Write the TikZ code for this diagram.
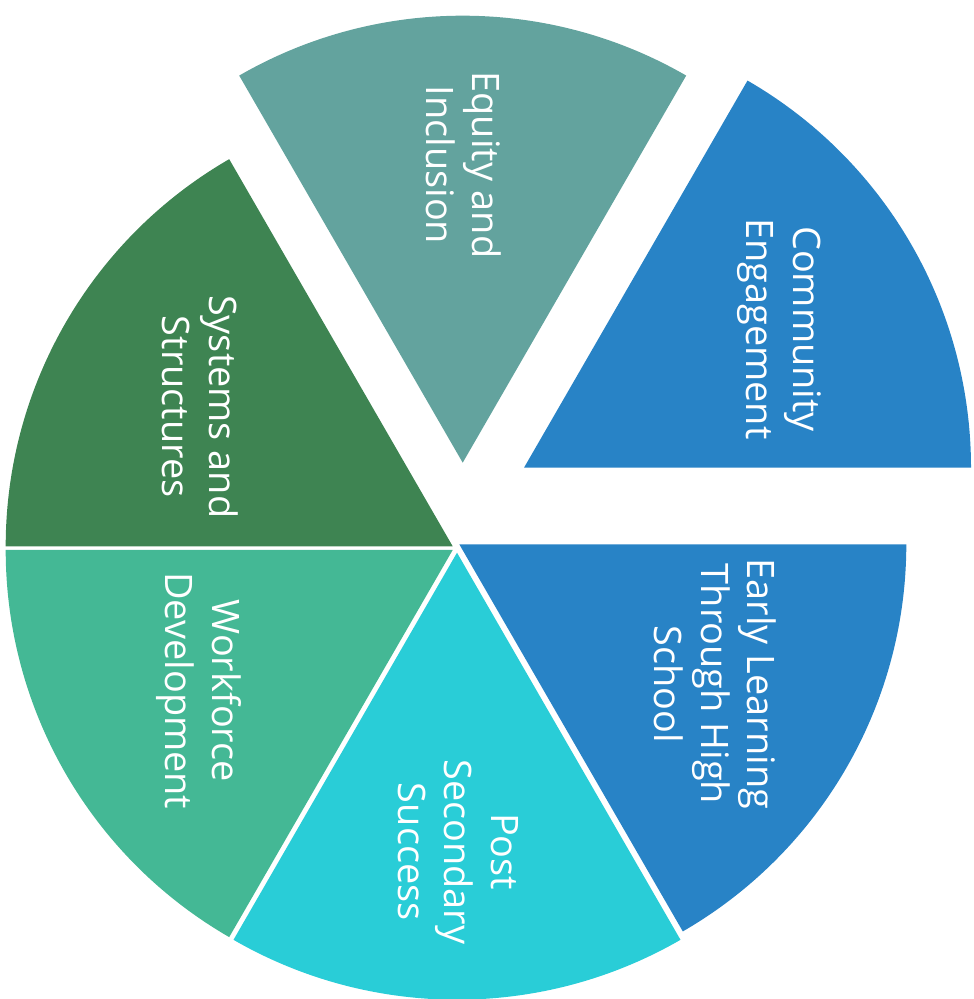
\documentclass[tikz,border=0pt]{standalone}
\usepackage{fontspec}
\setmainfont{Open Sans}
\definecolor{cSys}{HTML}{3E8452}
\definecolor{cWork}{HTML}{44B895}
\definecolor{cPost}{HTML}{29CDD7}
\definecolor{cBlue}{HTML}{2883C6}
\definecolor{cEq}{HTML}{63A39E}
\tikzset{
  lbl/.style={text=white, rotate=-90, align=center, inner sep=0pt,
    font=\fontsize{28.4}{34.9}\selectfont},
}
\newcommand{\sector}[4]{% color, apex, start, end
  \fill[#1] #2 -- ++(#3:447) arc[start angle=#3, end angle=#4, radius=447] -- cycle;}
\begin{document}
\begin{tikzpicture}[x=0.75pt,y=0.75pt]
\useasboundingbox (0,0) rectangle (974,999);
\sector{cSys}{(452.7,452.7)}{120}{180}
\sector{cWork}{(452.7,449)}{180}{240}
\sector{cPost}{(457,446.3)}{240}{300}
\sector{cBlue}{(459.3,454.7)}{300}{360}
\sector{cBlue}{(524,531.3)}{0}{60}
\sector{cEq}{(462.7,536.3)}{60}{120}
\node[lbl] (eq) at (463.7,834) {Equity and\\Inclusion};
\node[lbl] (ce) at (779.5,670) {Community\\Engagement};
\node[lbl] (ss) at (200,592.3) {Systems and\\Structures};
\node[lbl] (wd) at (199.2,308.2) {Workforce\\Development};
\node[lbl] (ps) at (458.3,147.3) {Post\\Secondary\\Success};
\node[lbl] (el) at (715.5,315) {Early Learning\\Through High\\School};
\end{tikzpicture}
\end{document}
